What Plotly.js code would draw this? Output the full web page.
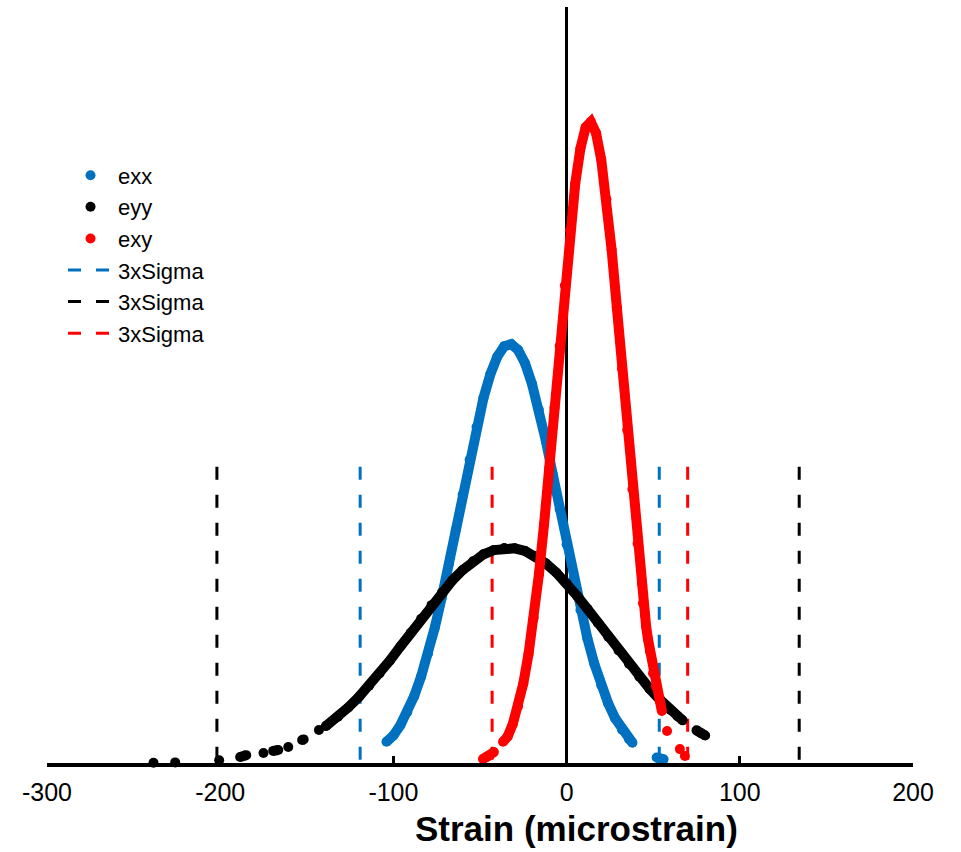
<!DOCTYPE html>
<html>
<head>
<meta charset="utf-8">
<script src="https://cdn.plot.ly/plotly-3.0.1.min.js"></script>
<style>html,body{margin:0;padding:0;background:#fff;}#chart{width:961px;height:852px;}</style>
</head>
<body>
<div id="chart"></div>
<script>
// ---- data (strain in microstrain, y = probability density) ----
const exxX = [-104,-100,-96,-92,-88,-84,-80,-76,-72,-68,-64,-60,-56,-52,-48,-44,-40,-36,-32,-28,-24,-20,-16,-12,-8,-4,0,4,8,12,16,20,24,28,32,36,38,null,52,54,56];
const exxY = [0.00070,0.00091,0.00125,0.00168,0.00221,0.00286,0.00362,0.00450,0.00549,0.00657,0.00771,0.00888,0.01003,0.01111,0.01207,0.01286,0.01344,0.01378,0.01385,0.01366,0.01322,0.01254,0.01168,0.01066,0.00955,0.00839,0.00723,0.00611,0.00506,0.00412,0.00328,0.00257,0.00197,0.00148,0.00110,0.00079,0.00067,null,0.00018,0.00015,0.00012];

const eyyX = [-238.5,null,-226,null,-200.6,null,-188.5,-185,null,-175,null,-169.4,-166.5,null,-160.7,null,-152.7,-151.8,null,-143,null,-139,-132,-126,-120,-114,-108,-102,-96,-90,-84,-78,-72,-66,-60,-54,-48,-42,-36,-30,-24,-18,-12,-6,0,6,12,18,24,30,36,42,48,54,60,64,67,null,75,77.5,80];
const eyyY = [0.00001,null,0.00002,null,0.00009,null,0.00020,0.00026,null,0.00033,null,0.00040,0.00043,null,0.00053,null,0.00076,0.00078,null,0.00109,null,0.00122,0.00153,0.00184,0.00218,0.00256,0.00296,0.00339,0.00385,0.00431,0.00477,0.00522,0.00564,0.00604,0.00638,0.00667,0.00690,0.00704,0.00711,0.00710,0.00701,0.00684,0.00660,0.00630,0.00594,0.00553,0.00510,0.00464,0.00418,0.00372,0.00328,0.00285,0.00245,0.00209,0.00175,0.00155,0.00141,null,0.00108,0.00099,0.00091];

const exyX = [-48.3,-46,-44.2,-42,null,-36.7,-34,-31,-28,-25,-22,-19,-16,-13,-10,-7,-4,-1,2,5,8,11,14,17,20,23,26,29,32,35,38,41,43.5,44.1,45.3,45.9,47,48.1,49.9,51.6,53.9,55,null,58,null,65.4,null,68.3];
const exyY = [0.00013,0.00020,0.00026,0.00036,null,0.00070,0.00088,0.00130,0.00188,0.00263,0.00360,0.00480,0.00623,0.00790,0.00975,0.01175,0.01379,0.01579,0.01762,0.01917,0.02033,0.02102,0.02120,0.02083,0.01995,0.01864,0.01697,0.01507,0.01304,0.01101,0.00905,0.00726,0.00593,0.00528,0.00489,0.00452,0.00409,0.00370,0.00297,0.00254,0.00204,0.00172,null,0.00106,null,0.00046,null,0.00023];

// 3 x sigma limits (lower, upper) and the height of the limit lines
const sigmaNames = ['exx','eyy','exy'];
const sigmaLower = [-119.2,-201.9,-43.0];
const sigmaUpper = [53.5,134.3,69.9];
const sigmaLineTop = 0.0098;

const xTickVals = [-300,-200,-100,0,100,200];
const xTickText = ['-300','-200','-100','0','100','200'];

const colors = {exx:'#0070C0', eyy:'#000000', exy:'#FF0000'};
const series = [
  {name:'exx', x:exxX, y:exxY},
  {name:'eyy', x:eyyX, y:eyyY},
  {name:'exy', x:exyX, y:exyY}
];

const traces = [];
// 3xSigma dashed limit lines (drawn beneath the curves)
sigmaNames.forEach((n,i)=>{
  traces.push({
    type:'scatter', mode:'lines', name:'3xSigma',
    x:[sigmaLower[i],sigmaLower[i],null,sigmaUpper[i],sigmaUpper[i]],
    y:[sigmaLineTop,0,null,sigmaLineTop,0],
    line:{color:colors[n], width:3, dash:'13px,15px'},
    legendrank: 10+i, hoverinfo:'skip', cliponaxis:false
  });
});
series.forEach((s,i)=>{
  traces.push({
    type:'scatter', mode:'lines', x:s.x, y:s.y, showlegend:false,
    line:{color:colors[s.name], width:10}, hoverinfo:'skip', cliponaxis:false
  });
  traces.push({
    type:'scatter', mode:'markers', name:s.name, x:s.x, y:s.y,
    marker:{color:colors[s.name], size:10}, legendrank:i+1, cliponaxis:false
  });
});

const layout = {
  width:961, height:852,
  margin:{l:47, r:48, t:7, b:89},
  paper_bgcolor:'#ffffff', plot_bgcolor:'#ffffff',
  showlegend:true,
  legend:{x:0.0185, y:0.805, xanchor:'left', yanchor:'top', itemwidth:45,
          font:{family:'Arial, Liberation Sans', size:22, color:'#000'},
          bgcolor:'rgba(0,0,0,0)', tracegroupgap:0},
  xaxis:{range:[-300,200], showgrid:false,
         zeroline:true, zerolinecolor:'#000', zerolinewidth:3,
         showline:true, linecolor:'#000', linewidth:4,
         ticks:'inside', ticklen:7, tickwidth:3, tickcolor:'#000',
         tickvals:xTickVals, ticktext:xTickText, ticklabelstandoff:4,
         tickfont:{family:'Arial, Liberation Sans', size:25, color:'#000'}},
  yaxis:{range:[0,0.025], visible:false, showgrid:false, zeroline:false},
  annotations:[{
    text:'Strain (microstrain)', xref:'paper', yref:'paper',
    x:0.612, y:-0.0860, xanchor:'center', yanchor:'middle', showarrow:false,
    font:{family:'Arial, Liberation Sans', size:35, color:'#000', weight:'bold'}
  }]
};

Plotly.newPlot('chart', traces, layout, {displayModeBar:false, staticPlot:true});
</script>
</body>
</html>
